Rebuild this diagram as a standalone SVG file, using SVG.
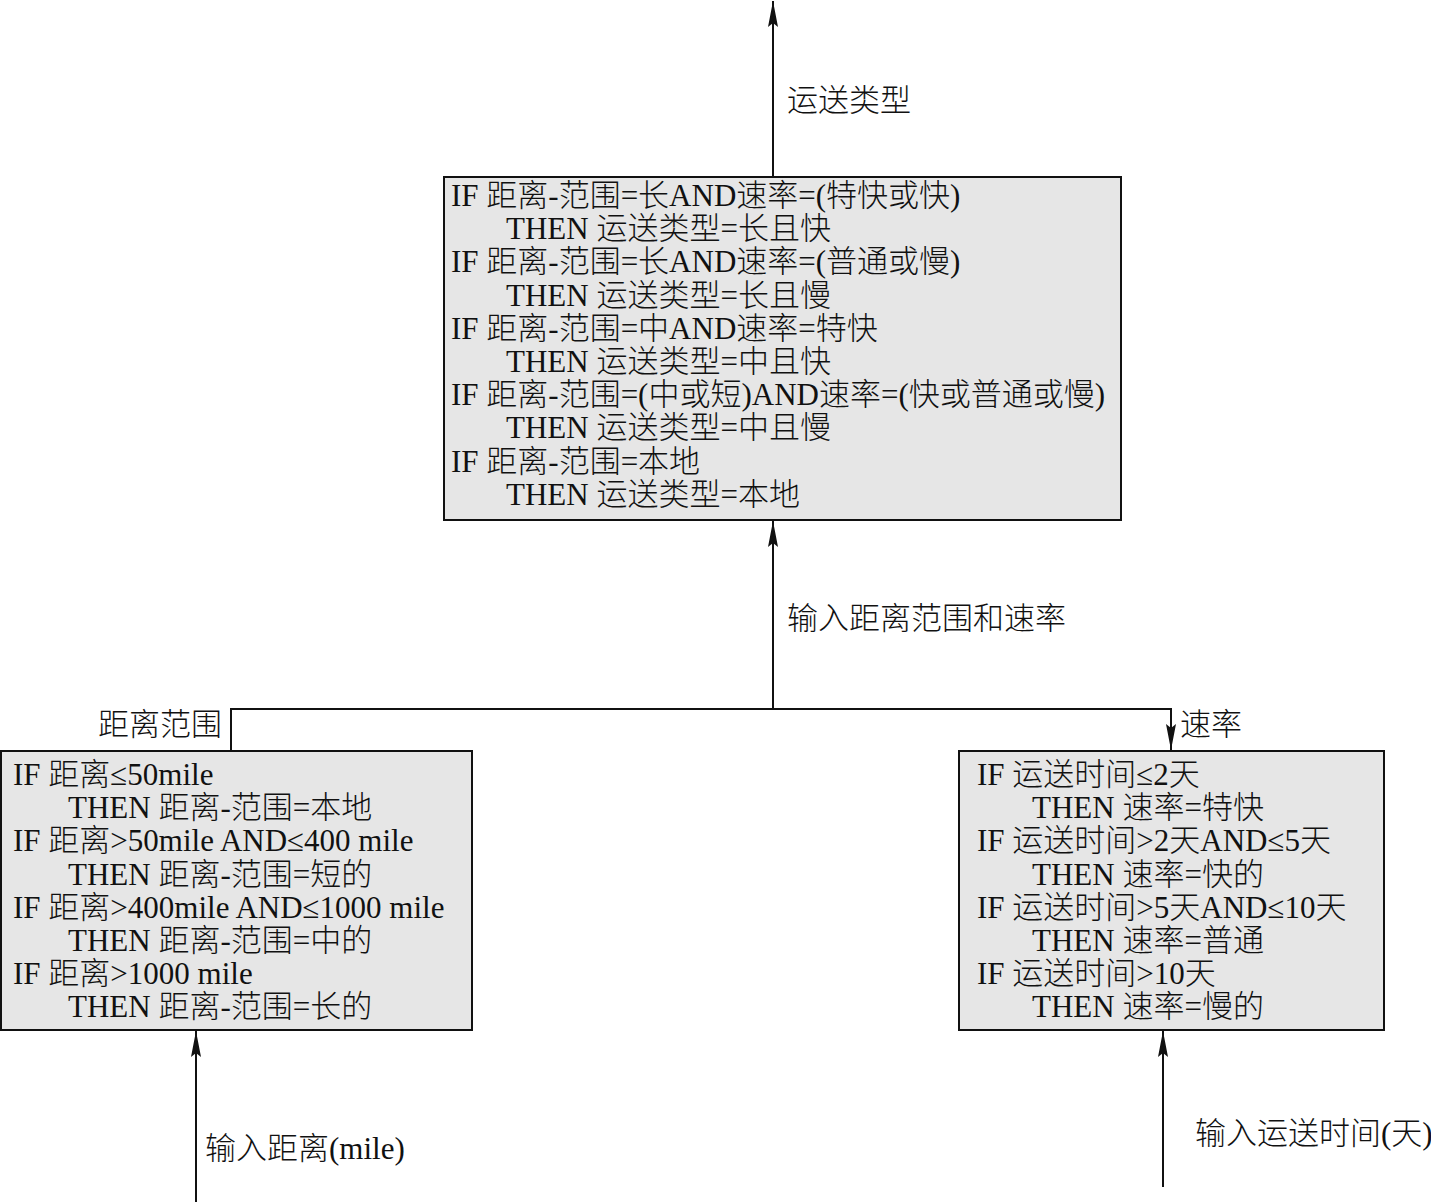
<svg xmlns="http://www.w3.org/2000/svg" width="1431" height="1202" viewBox="0 0 1431 1202">
<style>
text{font-family:"Liberation Serif","Noto Sans CJK SC",serif;font-size:31px;font-weight:300;fill:#111}
.box{fill:#e6e6e6;stroke:#111;stroke-width:2}
.ln{fill:none;stroke:#111;stroke-width:2}
</style>
<defs>
<marker id="ah" viewBox="0 0 26 10" refX="26" refY="5" markerWidth="26" markerHeight="10" markerUnits="userSpaceOnUse" orient="auto">
<path d="M0,0 L26,5 L0,10 L4,5 z" fill="#111"/>
</marker>
</defs>
<rect width="1431" height="1202" fill="#fff"/>
<g id="connectors">
<line class="ln" x1="773" y1="177" x2="773" y2="1" marker-end="url(#ah)"/>
<line class="ln" x1="773" y1="709" x2="773" y2="521" marker-end="url(#ah)"/>
<polyline class="ln" points="231,750 231,709 1171,709 1171,750" marker-end="url(#ah)"/>
<line class="ln" x1="196" y1="1202" x2="196" y2="1031" marker-end="url(#ah)"/>
<line class="ln" x1="1163" y1="1187" x2="1163" y2="1031" marker-end="url(#ah)"/>
<text x="787" y="111">运送类型</text>
<text x="787" y="629">输入距离范围和速率</text>
<text x="222" y="735" text-anchor="end">距离范围</text>
<text x="1180" y="735">速率</text>
<text x="205" y="1159">输入距离(mile)</text>
<text x="1195" y="1144">输入运送时间(天)</text>
</g>
<g id="node-type">
<rect class="box" x="444" y="177" width="677" height="343"/>
<text x="451" y="206">IF 距离-范围=长AND速率=(特快或快)</text>
<text x="506" y="239.2">THEN 运送类型=长且快</text>
<text x="451" y="272.4">IF 距离-范围=长AND速率=(普通或慢)</text>
<text x="506" y="305.6">THEN 运送类型=长且慢</text>
<text x="451" y="338.8">IF 距离-范围=中AND速率=特快</text>
<text x="506" y="372">THEN 运送类型=中且快</text>
<text x="451" y="405.2">IF 距离-范围=(中或短)AND速率=(快或普通或慢)</text>
<text x="506" y="438.4">THEN 运送类型=中且慢</text>
<text x="451" y="471.6">IF 距离-范围=本地</text>
<text x="506" y="504.8">THEN 运送类型=本地</text>
</g>
<g id="node-distance">
<rect class="box" x="1" y="751" width="471" height="279"/>
<text x="13" y="785">IF 距离≤50mile</text>
<text x="68" y="818.2">THEN 距离-范围=本地</text>
<text x="13" y="851.4">IF 距离&gt;50mile AND≤400 mile</text>
<text x="68" y="884.6">THEN 距离-范围=短的</text>
<text x="13" y="917.8">IF 距离&gt;400mile AND≤1000 mile</text>
<text x="68" y="951">THEN 距离-范围=中的</text>
<text x="13" y="984.2">IF 距离&gt;1000 mile</text>
<text x="68" y="1017.4">THEN 距离-范围=长的</text>
</g>
<g id="node-speed">
<rect class="box" x="959" y="751" width="425" height="279"/>
<text x="977" y="785">IF 运送时间≤2天</text>
<text x="1032" y="818.2">THEN 速率=特快</text>
<text x="977" y="851.4">IF 运送时间&gt;2天AND≤5天</text>
<text x="1032" y="884.6">THEN 速率=快的</text>
<text x="977" y="917.8">IF 运送时间&gt;5天AND≤10天</text>
<text x="1032" y="951">THEN 速率=普通</text>
<text x="977" y="984.2">IF 运送时间&gt;10天</text>
<text x="1032" y="1017.4">THEN 速率=慢的</text>
</g>
</svg>
